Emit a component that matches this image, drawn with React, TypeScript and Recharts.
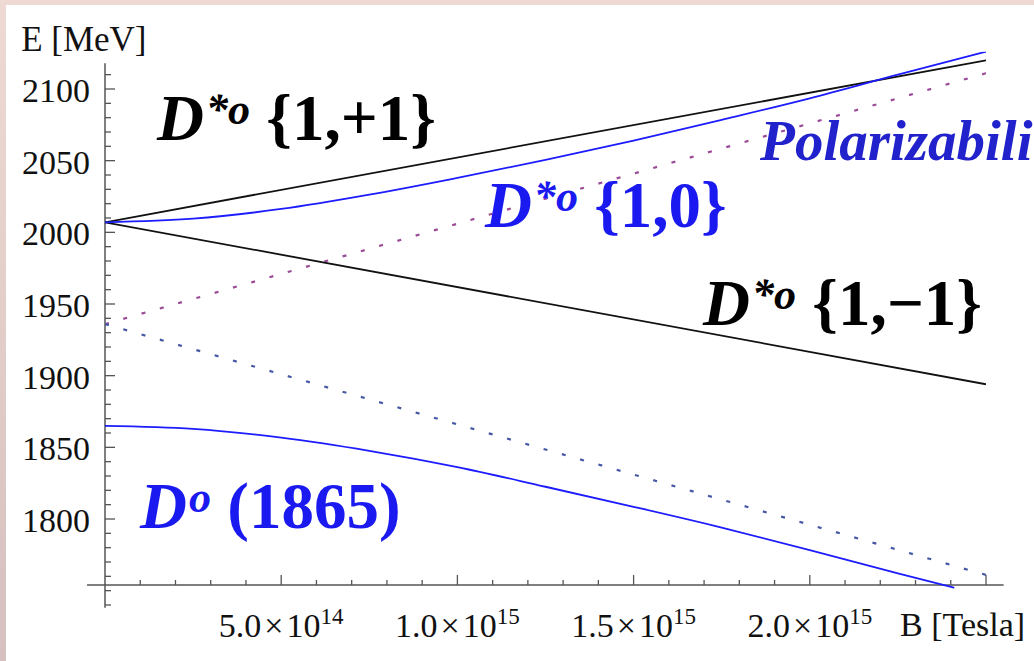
import React from 'react';
import { LineChart, Line, XAxis, YAxis, ReferenceLine, ReferenceDot } from 'recharts';

// ---------- data (B in Tesla, E in MeV) ----------
const lineEndsB = [0, 2.5e15];
const dStarPlusE = [2007, 2120];
const dStarMinusE = [2007, 1894];
const polarUpE = [1936, 2111];
const polarDownE = [1936, 1761];

const dStarZeroB = [0, 0.25e15, 0.5e15, 0.75e15, 1.0e15, 1.25e15, 1.5e15, 1.75e15, 2.0e15, 2.25e15, 2.5e15];
const dStarZeroE = [2007, 2009.5, 2016.3, 2026.3, 2038, 2050.5, 2064, 2078.5, 2093.5, 2110, 2126];

const dZeroB = [0, 0.25e15, 0.5e15, 0.75e15, 1.0e15, 1.25e15, 1.5e15, 1.75e15, 2.0e15, 2.25e15, 2.41e15];
const dZeroE = [1865, 1862.9, 1856.8, 1847.6, 1836.2, 1822.5, 1808.5, 1794, 1778.3, 1762, 1752];

// ---------- ticks ----------
const yMajorTicks = [1800, 1850, 1900, 1950, 2000, 2050, 2100];
const yAllTicks = [
  1740, 1750, 1760, 1770, 1780, 1790, 1800, 1810, 1820, 1830, 1840, 1850, 1860, 1870, 1880, 1890,
  1900, 1910, 1920, 1930, 1940, 1950, 1960, 1970, 1980, 1990, 2000, 2010, 2020, 2030, 2040, 2050,
  2060, 2070, 2080, 2090, 2100, 2110,
];
const xAllTicks = [
  1e14, 2e14, 3e14, 4e14, 5e14, 6e14, 7e14, 8e14, 9e14, 10e14, 11e14, 12e14, 13e14, 14e14, 15e14,
  16e14, 17e14, 18e14, 19e14, 20e14, 21e14, 22e14, 23e14, 24e14, 25e14,
];
const xTickValues = [5e14, 1e15, 1.5e15, 2e15];
const xTickMantissas = ['5.0', '1.0', '1.5', '2.0'];
const xTickExponents = ['14', '15', '15', '15'];

// ---------- layout ----------
const W = 1034;
const H = 661;
const MARGIN = { top: 51.73, right: 48, bottom: 3.13, left: 10 };
const YAXIS_W = 95;
const XAXIS_H = 50;
const X_MIN = 0;
const X_MAX = 2.5e15;
const Y_MIN = 1738;
const Y_MAX = 2126;
const X_AXIS_E = 1754;
const PLOT_H = H - MARGIN.top - MARGIN.bottom - XAXIS_H;
const X_AXIS_OFFSET = (PLOT_H * (X_AXIS_E - Y_MIN)) / (Y_MAX - Y_MIN);

const SERIF = "'Liberation Serif', 'Times New Roman', serif";
const AXIS = '#555555';
const BLUE = '#1c1cff';
const BLACK = '#111111';

const toPts = (bs: number[], es: number[]) => bs.map((b, i) => ({ b, e: es[i] }));

const YTick = (props: any) => {
  const { x, y, payload } = props;
  const v = payload.value as number;
  const major = yMajorTicks.includes(v);
  return (
    <g>
      <line x1={x} x2={x + (major ? 10 : 6)} y1={y} y2={y} stroke={AXIS} strokeWidth={1.3} />
      {major && (
        <text x={x - 15} y={y} dy="0.38em" textAnchor="end" fontFamily={SERIF} fontSize={34} fill="#111">
          {v}
        </text>
      )}
    </g>
  );
};

const XTick = (props: any) => {
  const { x, y, payload } = props;
  const v = payload.value as number;
  const major = v % 5e14 === 0;
  const axisY = y - X_AXIS_OFFSET;
  const idx = xTickValues.indexOf(v);
  return (
    <g>
      <line x1={x} x2={x} y1={axisY} y2={axisY - (major ? 10 : 5)} stroke={AXIS} strokeWidth={1.3} />
      {idx >= 0 && (
        <text x={x} y={y + 29} textAnchor="middle" fontFamily={SERIF} fontSize={34} fill="#111">
          <tspan>{xTickMantissas[idx]}</tspan>
          <tspan dx={3}>×</tspan>
          <tspan dx={3}>10</tspan>
          <tspan fontSize={23} dy={-13}>{xTickExponents[idx]}</tspan>
        </text>
      )}
    </g>
  );
};

const dLabel = (base: string, sup: string, rest: string, color: string, size: number) => (p: any) => (
  <text x={p.cx} y={p.cy} fill={color} fontFamily={SERIF} fontWeight="bold" fontSize={size}>
    <tspan fontStyle="italic">{base}</tspan>
    <tspan fontStyle="italic" fontSize={size * 0.68} dx={size * 0.03} dy={-size * 0.24}>{sup}</tspan>
    <tspan dy={size * 0.24}>{rest}</tspan>
  </text>
);

const plainLabel = (txt: string, size: number, color: string, extra: any = {}) => (p: any) => (
  <text x={p.cx} y={p.cy} fill={color} fontFamily={SERIF} fontSize={size} {...extra}>
    {txt}
  </text>
);

export default function App() {
  return (
    <div
      style={{
        position: 'absolute',
        left: 0,
        top: 0,
        width: W,
        height: H,
        background: 'linear-gradient(to bottom, #eedad2, #d6c0c0)',
        overflow: 'hidden',
      }}
    >
      <div style={{ position: 'absolute', left: 6, top: 5, width: W - 6, height: H - 5, background: '#ffffff' }} />
      <div style={{ position: 'absolute', left: 0, top: 0 }}>
        <LineChart width={W} height={H} margin={MARGIN}>
          <XAxis
            type="number"
            dataKey="b"
            domain={[X_MIN, X_MAX]}
            allowDataOverflow
            ticks={xAllTicks}
            interval={0}
            tick={<XTick />}
            tickSize={0}
            tickMargin={0}
            axisLine={false}
            tickLine={false}
            height={XAXIS_H}
          />
          <YAxis
            type="number"
            dataKey="e"
            domain={[Y_MIN, Y_MAX]}
            allowDataOverflow
            ticks={yAllTicks}
            interval={0}
            tick={<YTick />}
            tickSize={0}
            tickMargin={0}
            axisLine={false}
            tickLine={false}
            width={YAXIS_W}
          />
          <ReferenceLine
            segment={[{ x: 0, y: Y_MIN }, { x: 0, y: 2118 }]}
            stroke={AXIS}
            strokeWidth={1.5}
            ifOverflow="visible"
          />
          <ReferenceLine
            segment={[{ x: -0.051e15, y: X_AXIS_E }, { x: 2.55e15, y: X_AXIS_E }]}
            stroke={AXIS}
            strokeWidth={1.5}
            ifOverflow="visible"
          />
          <Line data={toPts(lineEndsB, polarUpE)} dataKey="e" type="linear" stroke="#9a4a96" strokeWidth={2.2}
            strokeDasharray="4 15" dot={false} activeDot={false} isAnimationActive={false} />
          <Line data={toPts(lineEndsB, polarDownE)} dataKey="e" type="linear" stroke="#4658a4" strokeWidth={2.2}
            strokeDasharray="4 15" dot={false} activeDot={false} isAnimationActive={false} />
          <Line data={toPts(lineEndsB, dStarPlusE)} dataKey="e" type="linear" stroke={BLACK} strokeWidth={1.8}
            dot={false} activeDot={false} isAnimationActive={false} />
          <Line data={toPts(lineEndsB, dStarMinusE)} dataKey="e" type="linear" stroke={BLACK} strokeWidth={1.8}
            dot={false} activeDot={false} isAnimationActive={false} />
          <Line data={toPts(dStarZeroB, dStarZeroE)} dataKey="e" type="monotone" stroke={BLUE} strokeWidth={1.8}
            dot={false} activeDot={false} isAnimationActive={false} />
          <Line data={toPts(dZeroB, dZeroE)} dataKey="e" type="monotone" stroke={BLUE} strokeWidth={1.8}
            dot={false} activeDot={false} isAnimationActive={false} />

          <ReferenceDot x={0.1476e15} y={2064.4} r={0} ifOverflow="visible"
            shape={dLabel('D', '*o', '\u00a0{1,+1}', '#000000', 65)} />
          <ReferenceDot x={1.078e15} y={2003.7} r={0} ifOverflow="visible"
            shape={dLabel('D', '*o', '\u00a0{1,0}', '#1a1af0', 65)} />
          <ReferenceDot x={1.697e15} y={1935.3} r={0} ifOverflow="visible"
            shape={dLabel('D', '*o', '\u00a0{1,\u22121}', '#000000', 65)} />
          <ReferenceDot x={0.0993e15} y={1793.7} r={0} ifOverflow="visible"
            shape={dLabel('D', 'o', '\u00a0(1865)', '#1a1af0', 65)} />
          <ReferenceDot x={1.859e15} y={2050.5} r={0} ifOverflow="visible"
            shape={plainLabel('Polarizabili', 57, '#2222cc', { fontWeight: 'bold', fontStyle: 'italic' })} />
          <ReferenceDot x={-0.238e15} y={2126.2} r={0} ifOverflow="visible"
            shape={plainLabel('E [MeV]', 35, '#111')} />
          <ReferenceDot x={2.256e15} y={1718.4} r={0} ifOverflow="visible"
            shape={plainLabel('B [Tesla]', 34, '#111')} />
        </LineChart>
      </div>
    </div>
  );
}
